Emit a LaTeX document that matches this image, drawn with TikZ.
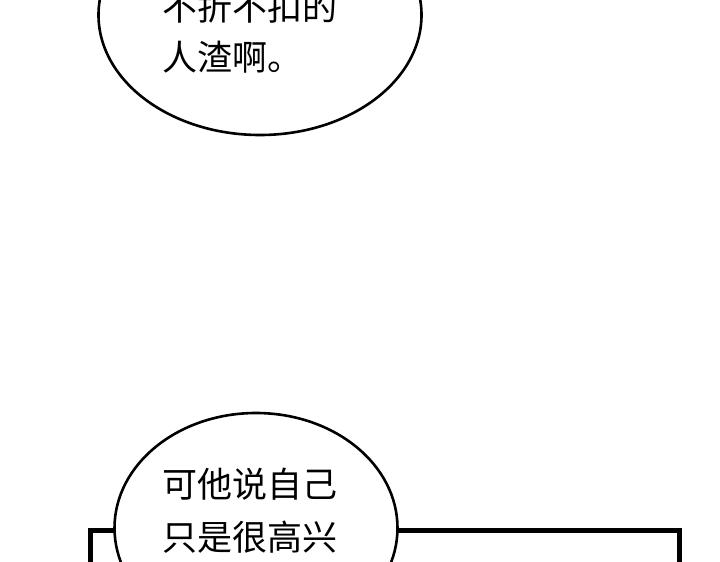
\documentclass[tikz,border=0pt]{standalone}
\usetikzlibrary{shapes.geometric}
\usepackage{fontspec}
\newfontfamily\cjk{Noto Sans CJK SC}
\begin{document}
\begin{tikzpicture}[x=1pt,y=-1pt,
  bub/.style={draw=black,line width=2.6pt,fill=white},
  txt/.style={font=\cjk\fontsize{35}{52}\selectfont,anchor=west,inner sep=0pt}]
\useasboundingbox (0,0) rectangle (720,562);
\begin{scope}
\clip (0,0) rectangle (720,562);
\draw[line width=5pt] (90,600) -- (90,530) -- (679,530) -- (679,600);
\node[bub,ellipse,minimum width=323pt,minimum height=240pt] (b1) at (260,15) {};
\node[bub,ellipse,minimum width=283pt,minimum height=230pt] (b2) at (256,528) {};
\node[txt] (t1) at (162,7) {不折不扣的};
\node[txt] (t2) at (162,57) {人渣啊。};
\node[txt] (t3) at (162,484) {可他说自己};
\node[txt] (t4) at (162,537) {只是很高兴};
\node[txt] (t5) at (162,583) {在一起唱歌};
\end{scope}
\end{tikzpicture}
\end{document}
